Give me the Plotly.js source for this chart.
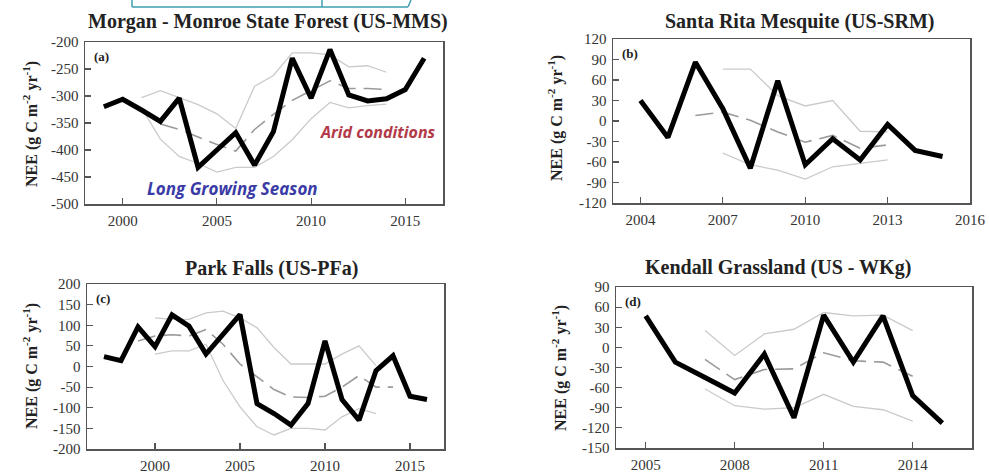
<!DOCTYPE html>
<html>
<head>
<meta charset="utf-8">
<script src="https://cdn.plot.ly/plotly-3.0.1.min.js"></script>
<style>html,body{margin:0;padding:0;background:#fff;}#chart{width:989px;height:474px;}</style>
</head>
<body>
<div id="chart"></div>
<script>
// ---------- Data ----------
// (a) Morgan - Monroe State Forest (US-MMS)
const yearsA = [1999,2000,2001,2002,2003,2004,2005,2006,2007,2008,2009,2010,2011,2012,2013,2014,2015,2016];
const neeA   = [-320,-306,-326,-347,-304,-432,-400,-368,-428,-366,-230,-304,-214,-298,-309,-305,-288,-230];
const bandYearsA = [2001,2002,2003,2004,2005,2006,2007,2008,2009,2010,2011,2012,2013,2014];
const upperA = [-303,-290,-303,-316,-333,-360,-282,-262,-220,-220,-224,-246,-244,-256];
const lowerA = [-322,-380,-412,-425,-441,-432,-432,-412,-381,-342,-312,-322,-318,-315];
const meanYearsA = [2002,2003,2004,2005,2006,2007,2008,2009,2010,2011,2012,2013,2014];
const meanA  = [-352,-362,-376,-390,-402,-362,-334,-308,-290,-272,-286,-286,-288];
const yTicksA = [-500,-450,-400,-350,-300,-250,-200];
const xTicksA = [2000,2005,2010,2015];

// (b) Santa Rita Mesquite (US-SRM)
const yearsB = [2004,2005,2006,2007,2008,2009,2010,2011,2012,2013,2014,2015];
const neeB   = [30,-24,86,18,-69,59,-64,-26,-57,-5,-43,-52];
const bandYearsB = [2007,2008,2009,2010,2011,2012,2013];
const upperB = [76,76,37,22,30,-15,-16];
const lowerB = [-47,-64,-72,-85,-67,-62,-57];
const meanYearsB = [2006,2007,2008,2009,2010,2011,2012,2013];
const meanB  = [8,13,1,-16,-31,-21,-40,-35];
const yTicksB = [-120,-90,-60,-30,0,30,60,90,120];
const xTicksB = [2004,2007,2010,2013,2016];

// (c) Park Falls (US-PFa)
const yearsC = [1997,1998,1999,2000,2001,2002,2003,2004,2005,2006,2007,2008,2009,2010,2011,2012,2013,2014,2015,2016];
const neeC   = [24,14,96,48,125,98,30,78,126,-90,-114,-142,-90,62,-80,-130,-10,26,-72,-80];
const bandYearsC = [2000,2001,2002,2003,2004,2005,2006,2007,2008,2009,2010,2011,2012,2013];
const upperC = [118,114,114,130,134,118,94,46,6,6,6,30,50,2];
const lowerC = [30,38,38,54,-34,-98,-146,-166,-150,-150,-154,-122,-102,-114];
const meanYearsC = [1999,2000,2001,2002,2003,2004,2005,2006,2007,2008,2009,2010,2011,2012,2013,2014];
const meanC  = [62,74,77,74,90,54,6,-26,-56,-74,-75,-72,-50,-22,-50,-50];
const yTicksC = [-200,-150,-100,-50,0,50,100,150,200];
const xTicksC = [2000,2005,2010,2015];

// (d) Kendall Grassland (US - WKg)
const yearsD = [2005,2006,2007,2008,2009,2010,2011,2012,2013,2014,2015];
const neeD   = [47,-22,-45,-68,-10,-105,48,-22,47,-72,-113];
const bandYearsD = [2007,2008,2009,2010,2011,2012,2013,2014];
const upperD = [25,-12,20,27,52,47,48,25];
const lowerD = [-62,-87,-92,-90,-70,-88,-93,-110];
const meanD  = [-18,-48,-33,-32,-8,-20,-22,-43];
const yTicksD = [-150,-120,-90,-60,-30,0,30,60,90];
const xTicksD = [2005,2008,2011,2014];

const titles = ["Morgan - Monroe State Forest (US-MMS)", "Santa Rita Mesquite (US-SRM)",
                "Park Falls (US-PFa)", "Kendall Grassland (US - WKg)"];
const panelLabels = ["(a)","(b)","(c)","(d)"];
const yTitle = "NEE (g C m<sup>-2</sup> yr<sup>-1</sup>)";

// ---------- Layout helpers ----------
const W = 989, H = 474;
const px = x => x / W;
const py = y => 1 - y / H;

const serif = "Liberation Serif";
const gray = "#cacaca";
const dashGray = "#9a9a9a";

function series(xa, ya, x, y, mean, mx, up, lo, bx) {
  return [
    {x: bx, y: up, xaxis: xa, yaxis: ya, mode: "lines", line: {color: gray, width: 1.3}, hoverinfo: "skip"},
    {x: bx, y: lo, xaxis: xa, yaxis: ya, mode: "lines", line: {color: gray, width: 1.3}, hoverinfo: "skip"},
    {x: mx, y: mean, xaxis: xa, yaxis: ya, mode: "lines", line: {color: dashGray, width: 1.6, dash: "18px,8px"}, hoverinfo: "skip"},
    {x: x, y: y, xaxis: xa, yaxis: ya, mode: "lines", line: {color: "#000", width: 5}}
  ];
}

const data = [].concat(
  series("x", "y", yearsA, neeA, meanA, meanYearsA, upperA, lowerA, bandYearsA),
  series("x2", "y2", yearsB, neeB, meanB, meanYearsB, upperB, lowerB, bandYearsB),
  series("x3", "y3", yearsC, neeC, meanC, meanYearsC, upperC, lowerC, bandYearsC),
  series("x4", "y4", yearsD, neeD, meanD, bandYearsD, upperD, lowerD, bandYearsD)
);

function ax(dom, range, ticks, anchor) {
  return {domain: dom, range: range, tickmode: "array", tickvals: ticks,
    ticktext: ticks.map(v => String(v)), anchor: anchor,
    showline: true, mirror: true, linecolor: "#555", linewidth: 1.5,
    ticks: "inside", ticklen: 6, tickcolor: "#555", tickwidth: 1.2,
    showgrid: false, zeroline: false, ticklabelstandoff: 2,
    tickfont: {family: serif, size: 15, color: "#333"}};
}

const boxes = [
  {l: 85, r: 443, t: 42, b: 204},
  {l: 613, r: 970, t: 39, b: 203},
  {l: 87, r: 444, t: 284, b: 449},
  {l: 616, r: 972, t: 287, b: 448}
];
const dx = b => [px(b.l), px(b.r)];
const dy = b => [py(b.b), py(b.t)];

const annotations = [];
const titlePos = [[268, 22], [799, 22], [271, 268], [778, 267]];
const yTitlePos = [[30, 124], [555, 118], [30, 366], [559, 368]];
titles.forEach((t, i) => {
  annotations.push({text: "<b>" + t + "</b>", xref: "paper", yref: "paper",
    x: px(titlePos[i][0]), y: py(titlePos[i][1]), xanchor: "center", yanchor: "middle",
    showarrow: false, font: {family: serif, size: 20, color: "#222"}});
  annotations.push({text: "<b>" + yTitle + "</b>", xref: "paper", yref: "paper",
    x: px(yTitlePos[i][0]), y: py(yTitlePos[i][1]), xanchor: "center", yanchor: "middle",
    textangle: -90, showarrow: false, font: {family: serif, size: 16, color: "#222"}});
  const sfx = i === 0 ? "" : String(i + 1);
  annotations.push({text: "<b>" + panelLabels[i] + "</b>", xref: "x" + sfx + " domain", yref: "y" + sfx + " domain",
    x: 0.02, y: 0.97, xanchor: "left", yanchor: "top", showarrow: false,
    font: {family: serif, size: 13, color: "#222"}});
});
annotations.push({text: "<b><i>Arid conditions</i></b>", xref: "paper", yref: "paper",
  x: px(378), y: py(132), xanchor: "center", yanchor: "middle", showarrow: false,
  font: {family: "Open Sans", size: 16, color: "#b23a48"}});
annotations.push({text: "<b><i>Long Growing Season</i></b>", xref: "paper", yref: "paper",
  x: px(232), y: py(188), xanchor: "center", yanchor: "middle", showarrow: false,
  font: {family: "Open Sans", size: 17, color: "#3b3ba6"}});

const cyan = "#3d9fae";
const shapes = [
  {type: "line", xref: "paper", yref: "paper", x0: px(132), x1: px(408), y0: py(7), y1: py(7), line: {color: cyan, width: 1.5}},
  {type: "line", xref: "paper", yref: "paper", x0: px(132), x1: px(132), y0: py(0), y1: py(7), line: {color: cyan, width: 1.5}},
  {type: "line", xref: "paper", yref: "paper", x0: px(322), x1: px(322), y0: py(0), y1: py(7), line: {color: cyan, width: 1.5}},
  {type: "line", xref: "paper", yref: "paper", x0: px(408), x1: px(411), y0: py(7), y1: py(0), line: {color: cyan, width: 1.5}}
];

const layout = {
  width: W, height: H, showlegend: false,
  margin: {l: 0, r: 0, t: 0, b: 0},
  paper_bgcolor: "#fff", plot_bgcolor: "#fff",
  font: {family: serif, color: "#222"},
  xaxis:  ax(dx(boxes[0]), [1998, 2017], xTicksA, "y"),
  yaxis:  ax(dy(boxes[0]), [-500, -200], yTicksA, "x"),
  xaxis2: ax(dx(boxes[1]), [2003, 2016], xTicksB, "y2"),
  yaxis2: ax(dy(boxes[1]), [-120, 120], yTicksB, "x2"),
  xaxis3: ax(dx(boxes[2]), [1996, 2017], xTicksC, "y3"),
  yaxis3: ax(dy(boxes[2]), [-200, 200], yTicksC, "x3"),
  xaxis4: ax(dx(boxes[3]), [2004, 2016], xTicksD, "y4"),
  yaxis4: ax(dy(boxes[3]), [-150, 90], yTicksD, "x4"),
  annotations: annotations,
  shapes: shapes
};

Plotly.newPlot("chart", data, layout, {displayModeBar: false, staticPlot: true});
</script>
</body>
</html>
